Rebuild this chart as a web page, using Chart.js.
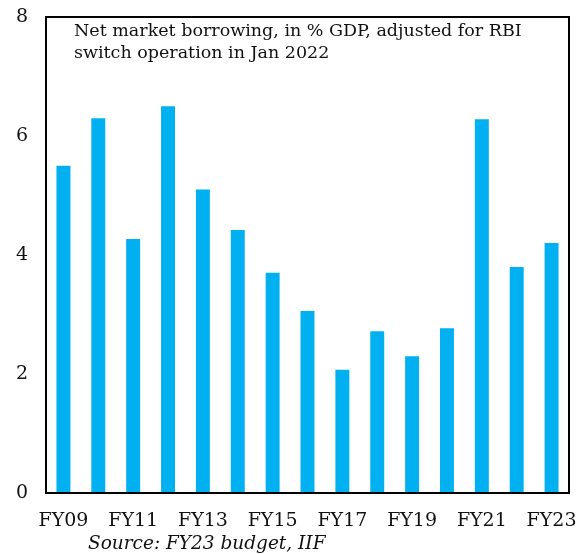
<!DOCTYPE html>
<html>
<head>
<meta charset="utf-8">
<script src="https://cdn.jsdelivr.net/npm/chart.js@4"></script>
<style>
  html, body { margin: 0; padding: 0; background: #fff; }
  #wrap { width: 579px; height: 554px; }
</style>
</head>
<body>
<div id="wrap"><canvas id="barChart" width="579" height="554"></canvas></div>
<script>
const years = ['FY09', 'FY10', 'FY11', 'FY12', 'FY13', 'FY14', 'FY15', 'FY16',
    'FY17', 'FY18', 'FY19', 'FY20', 'FY21', 'FY22', 'FY23'];
const borrowing = [5.5, 6.3, 4.27, 6.5, 5.1, 4.42, 3.7, 3.06, 2.07, 2.72, 2.3, 2.77, 6.28, 3.8, 4.2];
const yTicks = [0, 2, 4, 6, 8];

const serif = '"DejaVu Serif", serif';

// box round the plot plus the note and the source line
const extras = {
    id: 'extras',
    afterDraw(chart) {
        const ctx = chart.ctx;
        const a = chart.chartArea;
        ctx.save();
        ctx.strokeStyle = '#000';
        ctx.lineWidth = 2;
        ctx.strokeRect(a.left, a.top, a.right - a.left, a.bottom - a.top);
        ctx.fillStyle = '#111';
        ctx.textBaseline = 'middle';
        ctx.font = '17.5px ' + serif;
        ctx.fillText('Net market borrowing, in % GDP, adjusted for RBI', 74, 31);
        ctx.fillText('switch operation in Jan 2022', 74, 53);
        ctx.font = 'italic 18.5px ' + serif;
        ctx.fillText('Source: FY23 budget, IIF', 88, 544);
        ctx.restore();
    }
};

const barCtx = document.getElementById('barChart').getContext('2d');
const barChart = new Chart(barCtx, {
    type: 'bar',
    data: {
        labels: years,
        datasets: [{
            data: borrowing,
            backgroundColor: '#00b0f0',
            barPercentage: 0.8,
            categoryPercentage: 0.5
        }]
    },
    options: {
        responsive: false,
        animation: false,
        layout: { padding: { top: 17, right: 10, left: 0, bottom: 0 } },
        plugins: {
            legend: { display: false },
            tooltip: { enabled: false }
        },
        scales: {
            x: {
                grid: { display: false, drawTicks: false },
                border: { display: false },
                afterFit(scale) {
                    scale.height = 61;
                    scale.paddingLeft = 0;
                    scale.paddingRight = 0;
                },
                ticks: {
                    autoSkip: false,
                    maxRotation: 0,
                    padding: 17,
                    color: '#111',
                    font: { family: serif, size: 19 },
                    callback(value, index) { return index % 2 === 0 ? years[index] : ''; }
                }
            },
            y: {
                min: 0,
                max: 8,
                afterBuildTicks(scale) { scale.ticks = yTicks.map(v => ({ value: v })); },
                afterFit(scale) {
                    scale.width = 46;
                    scale.paddingTop = 0;
                    scale.paddingBottom = 0;
                },
                grid: { display: false, drawTicks: false },
                border: { display: false },
                ticks: {
                    padding: 18,
                    color: '#111',
                    font: { family: serif, size: 19 }
                }
            }
        }
    },
    plugins: [extras]
});
</script>
</body>
</html>
